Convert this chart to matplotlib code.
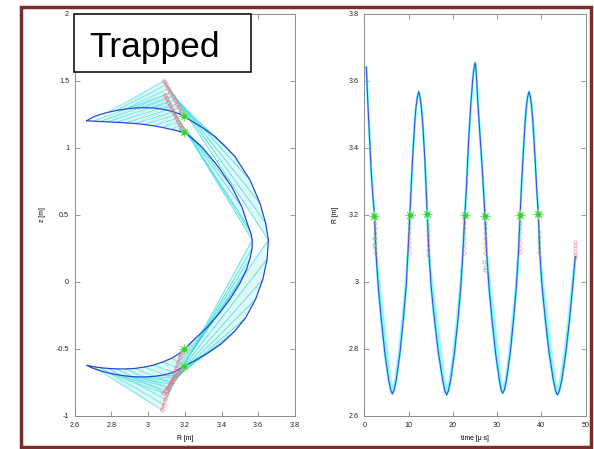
import numpy as np
import matplotlib.pyplot as plt
from matplotlib.patches import Rectangle

plt.rcParams['font.family'] = ['Liberation Sans', 'DejaVu Sans']

# ---------------- poloidal projection of the banana orbit, R [m], z [m] -------------
# upper tip -> upper outer crossing
uo_R = [2.665, 2.70, 2.74, 2.78, 2.83, 2.88, 2.93, 2.98, 3.03, 3.08, 3.13, 3.17, 3.197]
uo_z = [1.201, 1.228, 1.248, 1.263, 1.278, 1.289, 1.296, 1.298, 1.296, 1.286, 1.270, 1.252, 1.233]
# upper tip -> upper inner crossing
ui_R = [2.665, 2.70, 2.74, 2.78, 2.83, 2.88, 2.93, 2.98, 3.03, 3.08, 3.13, 3.17, 3.197]
ui_z = [1.201, 1.198, 1.195, 1.192, 1.189, 1.185, 1.180, 1.173, 1.163, 1.150, 1.135, 1.122, 1.115]
# lower tip -> lower inner crossing
li_R = [2.665, 2.70, 2.74, 2.78, 2.83, 2.88, 2.93, 2.98, 3.03, 3.08, 3.13, 3.17, 3.197]
li_z = [-0.622, -0.632, -0.640, -0.645, -0.649, -0.649, -0.645, -0.635, -0.620, -0.597, -0.568, -0.533, -0.502]
# lower tip -> lower outer crossing
lo_R = [2.665, 2.70, 2.74, 2.78, 2.83, 2.88, 2.93, 2.98, 3.03, 3.08, 3.13, 3.17, 3.197]
lo_z = [-0.622, -0.645, -0.663, -0.678, -0.692, -0.702, -0.708, -0.709, -0.705, -0.695, -0.678, -0.652, -0.627]
# outer leg: upper crossing -> max R, max R -> lower crossing
ot_R = [3.197, 3.228, 3.30, 3.364, 3.42, 3.473, 3.555, 3.609, 3.640, 3.655]
ot_z = [1.233, 1.206, 1.145, 1.082, 1.010, 0.933, 0.759, 0.586, 0.437, 0.312]
ob_R = [3.655, 3.648, 3.625, 3.585, 3.53, 3.47, 3.40, 3.32, 3.25, 3.197]
ob_z = [0.312, 0.17, 0.02, -0.13, -0.27, -0.37, -0.46, -0.535, -0.59, -0.627]
# inner leg: lower crossing -> max R, max R -> upper crossing
ib_R = [3.197, 3.25, 3.32, 3.39, 3.45, 3.50, 3.535, 3.556, 3.566, 3.567]
ib_z = [-0.502, -0.43, -0.34, -0.23, -0.12, -0.01, 0.09, 0.18, 0.25, 0.312]
it_R = [3.567, 3.560, 3.546, 3.510, 3.455, 3.382, 3.292, 3.24, 3.197]
it_z = [0.312, 0.36, 0.411, 0.560, 0.709, 0.858, 1.007, 1.068, 1.115]

# projected points (red chains)
rul_R = [3.087, 3.099, 3.110, 3.121, 3.133, 3.144, 3.156, 3.167, 3.179, 3.190]
rul_z = [1.499, 1.471, 1.442, 1.414, 1.386, 1.357, 1.329, 1.301, 1.272, 1.244]
rus_R = [3.092, 3.101, 3.110, 3.119, 3.128, 3.137, 3.145, 3.154, 3.163, 3.172, 3.181, 3.190]
rus_z = [1.393, 1.368, 1.343, 1.318, 1.293, 1.268, 1.244, 1.219, 1.194, 1.169, 1.144, 1.119]
rll_R = [3.074, 3.084, 3.094, 3.104, 3.114, 3.124, 3.133, 3.143, 3.153, 3.163, 3.173, 3.183]
rll_z = [-0.955, -0.915, -0.876, -0.836, -0.797, -0.757, -0.718, -0.678, -0.639, -0.599, -0.560, -0.520]
rls_R = [3.083, 3.095, 3.107, 3.119, 3.131, 3.144, 3.156, 3.168, 3.180, 3.192]
rls_z = [-0.830, -0.808, -0.786, -0.764, -0.742, -0.720, -0.698, -0.676, -0.654, -0.632]

# crossings (green)
cross_R = [3.197, 3.197, 3.197, 3.197]
cross_z = [1.233, 1.115, -0.502, -0.627]

# ---------------- R(t) ----------------
t_us = [0.45, 0.84, 1.21, 1.58, 2.0, 2.3, 2.65, 3.15, 3.85, 4.65, 5.5, 5.95, 6.33,
        6.75, 7.2, 8.05, 8.8, 9.45, 9.85, 10.3, 10.55, 10.93, 11.38, 11.68, 12.0, 12.28,
        12.58, 12.88, 13.19, 13.64, 13.98, 14.22, 14.6, 15.1, 15.85, 16.75, 17.7, 18.2, 18.6,
        19.0, 19.5, 20.35, 21.15, 21.8, 22.25, 22.7, 23.04, 23.57, 24.02, 24.48, 24.75, 25.0,
        25.2, 25.38, 25.7, 26.2, 26.7, 27.26, 27.65, 28.15, 28.85, 29.65, 30.5, 30.9, 31.25,
        31.65, 32.1, 32.95, 33.7, 34.35, 34.8, 35.2, 35.45, 35.85, 36.3, 36.6, 36.9, 37.2,
        37.5, 37.8, 38.1, 38.55, 38.95, 39.3, 39.65, 40.15, 40.9, 41.75, 42.7, 43.2, 43.6,
        44.05, 44.6, 45.5, 46.35, 47.05, 47.65]
R_t = [3.640, 3.522, 3.423, 3.324, 3.245, 3.200, 3.085, 2.985, 2.886, 2.787, 2.707, 2.678, 2.666,
       2.678, 2.707, 2.787, 2.886, 2.985, 3.085, 3.200, 3.274, 3.373, 3.473, 3.522, 3.552, 3.567,
       3.552, 3.522, 3.473, 3.373, 3.274, 3.200, 3.085, 2.985, 2.886, 2.787, 2.707, 2.675, 2.663,
       2.675, 2.707, 2.787, 2.886, 2.985, 3.085, 3.198, 3.274, 3.423, 3.522, 3.602, 3.635, 3.653,
       3.640, 3.602, 3.522, 3.423, 3.324, 3.196, 3.085, 2.985, 2.886, 2.787, 2.707, 2.678, 2.668,
       2.678, 2.707, 2.787, 2.886, 2.985, 3.085, 3.200, 3.274, 3.373, 3.473, 3.522, 3.552, 3.567,
       3.552, 3.522, 3.473, 3.373, 3.274, 3.203, 3.085, 2.985, 2.886, 2.787, 2.707, 2.675, 2.663,
       2.675, 2.707, 2.787, 2.886, 2.985, 3.075]

# inner edge of the cyan bundle in each trough
edge1_t = [2.8, 3.7, 4.6, 5.45, 6.1, 6.4, 6.8, 7.6, 8.35, 9.1, 9.7]
edge1_R = [3.085, 2.985, 2.886, 2.787, 2.707, 2.69, 2.707, 2.787, 2.886, 2.985, 3.085]
edge2_t = [14.75, 15.65, 16.6, 17.55, 18.3, 18.65, 19.05, 19.9, 20.7, 21.45, 22.1]
edge2_R = [3.085, 2.985, 2.886, 2.787, 2.707, 2.69, 2.707, 2.787, 2.886, 2.985, 3.085]
edge3_t = [27.8, 28.7, 29.6, 30.45, 31.05, 31.3, 31.7, 32.5, 33.25, 34.0, 34.65]
edge3_R = [3.085, 2.985, 2.886, 2.787, 2.707, 2.69, 2.707, 2.787, 2.886, 2.985, 3.085]
edge4_t = [39.8, 40.7, 41.65, 42.5, 43.3, 43.65, 44.05, 44.95, 45.85, 46.65, 47.5]
edge4_R = [3.085, 2.985, 2.886, 2.787, 2.707, 2.69, 2.707, 2.787, 2.886, 2.985, 3.075]

# crossings of the midplane-projected point
cross_t = [2.3, 10.3, 14.22, 22.7, 27.26, 35.2, 39.3]
cross_Rt = [3.196, 3.200, 3.203, 3.198, 3.196, 3.200, 3.203]

# projected points along time
proj_t = [2.45, 10.2, 14.35, 22.6, 27.35, 35.2, 39.35, 47.6]
proj_R = [[3.19, 3.175, 3.16, 3.145, 3.13, 3.115, 3.10, 3.085],
          [3.19, 3.175, 3.16, 3.145, 3.13, 3.115, 3.10, 3.085],
          [3.17, 3.155, 3.14, 3.125, 3.11, 3.095, 3.08],
          [3.19, 3.175, 3.16, 3.145, 3.13, 3.115, 3.10, 3.085],
          [3.19, 3.175, 3.16, 3.145, 3.13, 3.115, 3.10, 3.085],
          [3.19, 3.175, 3.16, 3.145, 3.13, 3.115, 3.10, 3.09],
          [3.15, 3.135, 3.12, 3.105, 3.09],
          [3.12, 3.11, 3.10, 3.09, 3.08, 3.07]]
stray_t = [27.1, 27.2, 27.15, 2.1, 2.2]
stray_R = [3.06, 3.045, 3.035, 3.13, 3.11]

blue = '#2140dc'
fan_cols = ['#12e4e4', '#c2e0e0']
red = '#e0506a'
green = '#2bd62b'


def style(ax):
    for s in ax.spines.values():
        s.set_color('#8c8c8c')
        s.set_linewidth(0.7)
    ax.tick_params(direction='in', length=3.5, width=0.6, color='#8c8c8c',
                   labelsize=5.2, pad=4, top=True, right=True, labelcolor='#222222')


def fan(ax, oR, oz, rR, rz):
    ax.fill(np.r_[oR, rR[::-1]], np.r_[oz, rz[::-1]], color='#b0f2f2', alpha=0.4, lw=0)
    n = min(len(oR), len(rR))
    for k in range(n):
        ax.plot([oR[k], rR[k]], [oz[k], rz[k]], color=fan_cols[0], lw=0.45, alpha=0.85)
        if k + 1 < n:
            ax.plot([oR[k + 1], rR[k]], [oz[k + 1], rz[k]], color=fan_cols[1], lw=0.45, alpha=0.9)


fig = plt.figure(figsize=(5.94, 4.49), dpi=100)

# ---------------- left: orbit in R-z ----------------
ax1 = fig.add_axes([0.1258, 0.0735, 0.3709, 0.8964])
A = lambda v: np.asarray(v, dtype=float)

fan(ax1, A(uo_R)[3:], A(uo_z)[3:], A(rul_R), A(rul_z))
fan(ax1, A(ui_R)[1:], A(ui_z)[1:], A(rus_R), A(rus_z))
fan(ax1, A(ot_R), A(ot_z), A(rul_R)[::-1], A(rul_z)[::-1])
fan(ax1, A(it_R)[::-1], A(it_z)[::-1], A(rus_R)[::-1][:9], A(rus_z)[::-1][:9])
fan(ax1, A(li_R)[1:], A(li_z)[1:], A(rll_R), A(rll_z))
fan(ax1, A(lo_R)[3:], A(lo_z)[3:], A(rls_R), A(rls_z))
fan(ax1, A(ob_R)[::-1], A(ob_z)[::-1], A(rls_R)[::-1], A(rls_z)[::-1])
fan(ax1, A(ib_R), A(ib_z), A(rll_R)[::-1][:10], A(rll_z)[::-1][:10])

orb_R = np.r_[uo_R, ot_R[1:], ob_R[1:], lo_R[::-1][1:], li_R[1:], ib_R[1:], it_R[1:], ui_R[::-1][1:]]
orb_z = np.r_[uo_z, ot_z[1:], ob_z[1:], lo_z[::-1][1:], li_z[1:], ib_z[1:], it_z[1:], ui_z[::-1][1:]]
ax1.plot(orb_R, orb_z, color=blue, lw=0.85, zorder=4)

for rr, zz in [(rul_R, rul_z), (rus_R, rus_z), (rll_R, rll_z), (rls_R, rls_z)]:
    ax1.plot(rr, zz, color='#f08a9a', lw=2.0, alpha=0.45, solid_capstyle='round', zorder=5)
    ax1.plot(rr, zz, ls='none', marker='o', ms=2.6, mfc='none', mec=red, mew=0.5, alpha=0.6, zorder=5)
ax1.plot(cross_R, cross_z, ls='none', marker=(8, 2, 0), ms=7, color='#7fe07f', mew=0.8, zorder=6)
ax1.plot(cross_R, cross_z, ls='none', marker='o', ms=2.5, color=green, zorder=7)

ax1.set_xlim(2.6, 3.8)
ax1.set_ylim(-1, 2)
ax1.set_xticks([2.6, 2.8, 3.0, 3.2, 3.4, 3.6, 3.8])
ax1.set_xticklabels(['2.6', '2.8', '3', '3.2', '3.4', '3.6', '3.8'])
ax1.set_yticks([-1, -0.5, 0, 0.5, 1, 1.5, 2])
ax1.set_yticklabels(['-1', '-0.5', '0', '0.5', '1', '1.5', '2'])
ax1.set_xlabel('R [m]', fontsize=4.9, labelpad=4.5)
ax1.set_ylabel('z [m]', fontsize=4.9, labelpad=8)
style(ax1)

# ---------------- right: R versus time ----------------
ax2 = fig.add_axes([0.6133, 0.0735, 0.3727, 0.8964])
tt = A(t_us)
RR = A(R_t)
for et, eR in [(edge1_t, edge1_R), (edge2_t, edge2_R), (edge3_t, edge3_R), (edge4_t, edge4_R)]:
    m = (tt >= et[0] - 0.5) & (tt <= et[-1] + 0.5) & (RR <= 3.09)
    ax2.fill(np.r_[tt[m], A(et)[::-1]], np.r_[RR[m], A(eR)[::-1]], color='#9af8f8', lw=0, zorder=2)
    ax2.plot(et, eR, color='#c0f2f2', lw=0.5, zorder=2)
ax2.plot(tt, RR, color='#5ef4f4', lw=1.7, zorder=3)
ax2.plot(tt, RR, color='#3050e6', lw=0.75, zorder=4)

for tc, rc in zip(proj_t, proj_R):
    ax2.plot([tc] * len(rc), rc, ls='none', marker='o', ms=2.3, mfc='none', mec=red, mew=0.5,
             alpha=0.55, zorder=5)
ax2.plot(stray_t, stray_R, ls='none', marker='o', ms=2.3, mfc='none', mec='#b0a0a8', mew=0.5, zorder=5)
ax2.plot(cross_t, cross_Rt, ls='none', marker=(8, 2, 0), ms=7, color='#7fe07f', mew=0.8, zorder=6)
ax2.plot(cross_t, cross_Rt, ls='none', marker='o', ms=2.5, color=green, zorder=7)

ax2.set_xlim(0, 50)
ax2.set_ylim(2.6, 3.8)
ax2.set_xticks([0, 10, 20, 30, 40, 50])
ax2.set_yticks([2.6, 2.8, 3.0, 3.2, 3.4, 3.6, 3.8])
ax2.set_yticklabels(['2.6', '2.8', '3', '3.2', '3.4', '3.6', '3.8'])
ax2.set_xlabel('time [\u03bc s]', fontsize=4.9, labelpad=4.5)
ax2.set_ylabel('R [m]', fontsize=4.9, labelpad=7)
style(ax2)

# title box and slide frame
fig.patches.append(Rectangle((74 / 594, 1 - 72 / 449), 177 / 594, 58 / 449, transform=fig.transFigure,
                             facecolor='white', edgecolor='black', lw=1.1, zorder=5))
fig.text(89 / 594, 1 - 57 / 449, 'Trapped', fontsize=25.5, va='baseline', ha='left', zorder=6)
fig.patches.append(Rectangle((21 / 594, 1 - 447 / 449), 570 / 594, 440 / 449, transform=fig.transFigure,
                             fill=False, edgecolor='#7a2d2d', lw=2.5, zorder=6))

fig.savefig('out.png', dpi=100)
